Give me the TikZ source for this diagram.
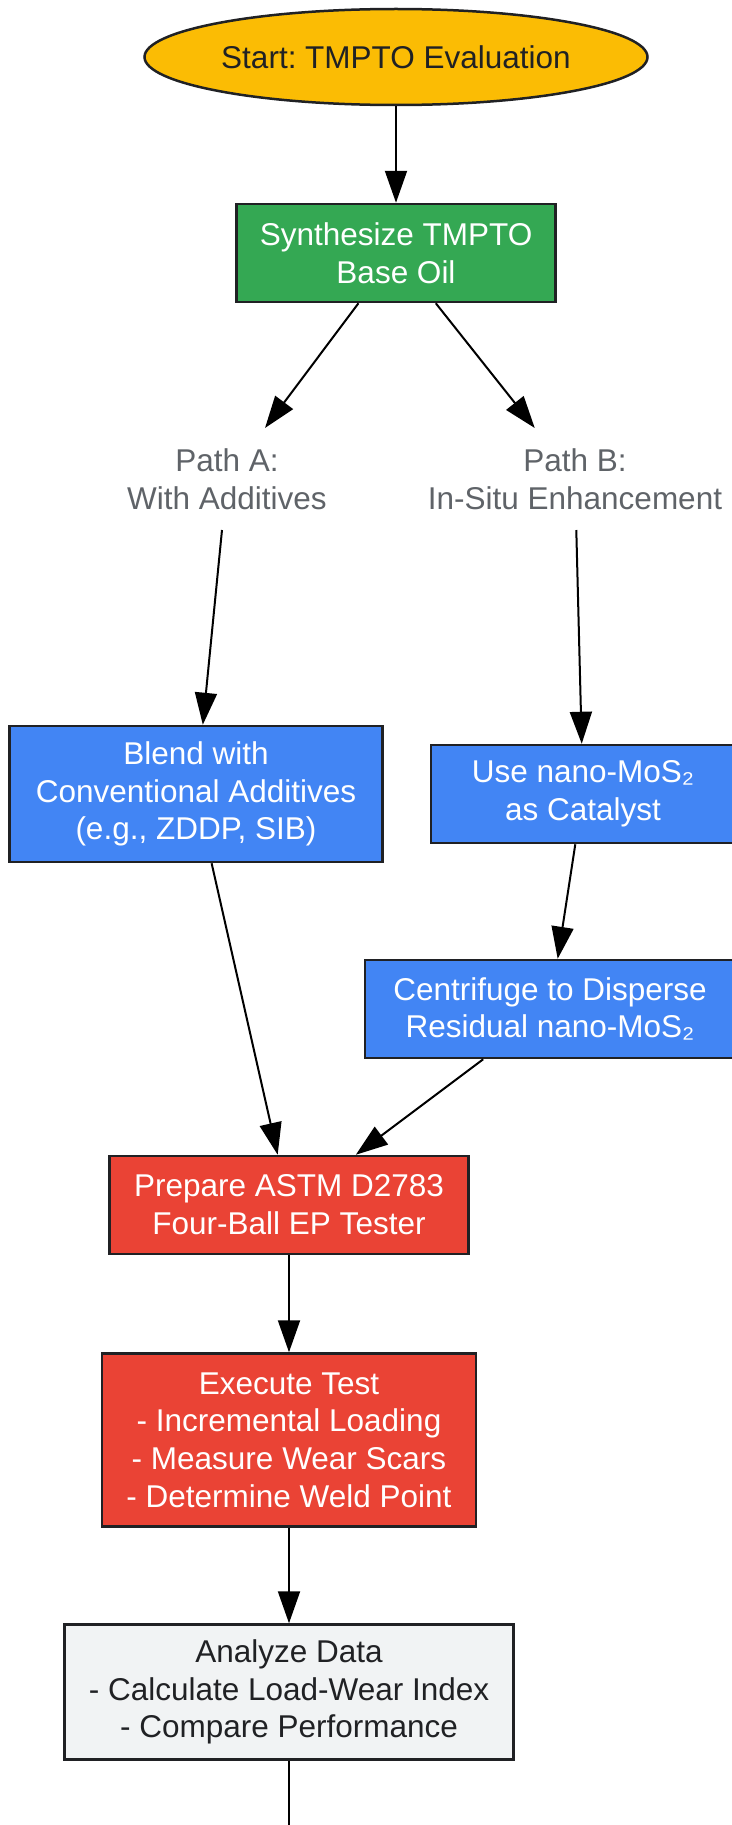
\documentclass[tikz,border=0pt]{standalone}
\usepackage{fontspec}
\setmainfont{Liberation Sans}
\frenchspacing
\usetikzlibrary{shapes.geometric,positioning,arrows.meta}

\definecolor{startyellow}{HTML}{FBBC04}
\definecolor{synthgreen}{HTML}{34A853}
\definecolor{pathblue}{HTML}{4285F4}
\definecolor{testred}{HTML}{EA4335}
\definecolor{datagray}{HTML}{F1F3F4}
\definecolor{edgedark}{HTML}{202124}
\definecolor{labelgray}{HTML}{5F6368}

\begin{document}
\begin{tikzpicture}[
	x=1pt,y=-1pt,
	% Step style
	stepbox/.style={rectangle,draw=edgedark,line width=2.5pt,align=center,inner sep=0pt,
		minimum height=98pt,font=\fontsize{31.5}{37.8}\selectfont},
	startnode/.style={stepbox,ellipse,fill=startyellow,text=edgedark,minimum width=503pt,minimum height=96pt},
	greenbox/.style={stepbox,fill=synthgreen,text=white},
	bluebox/.style={stepbox,fill=pathblue,text=white},
	redbox/.style={stepbox,fill=testred,text=white},
	graybox/.style={stepbox,fill=datagray,text=edgedark},
	% Path labels
	pathlabel/.style={rectangle,align=center,text=labelgray,minimum height=100pt,
		font=\fontsize{31.5}{37.8}\selectfont},
	% Connectors
	>={Triangle[length=32pt,width=22pt]},
	every path/.append style={line width=2pt}
	]
	\useasboundingbox (0,0) rectangle (731,1825);
	%% Draw steps
	\node (start) [startnode] at (396,57) {Start: TMPTO Evaluation};
	\node (synth) [greenbox,minimum width=319pt] at (396,253) {Synthesize TMPTO\\Base Oil};
	\node (patha) [pathlabel] at (227,479) {Path A:\\With Additives};
	\node (pathb) [pathlabel] at (575,479) {Path B:\\In-Situ Enhancement};
	\node (blend) [bluebox,minimum width=373pt,minimum height=136pt] at (196,794) {Blend with\\Conventional Additives\\(e.g., ZDDP, SIB)};
	\node (nano) [bluebox,minimum width=304pt] at (583,794) {Use nano-MoS₂\\as Catalyst};
	\node (centri) [bluebox,minimum width=370pt] at (550,1009) {Centrifuge to Disperse\\Residual nano-MoS₂};
	\node (prep) [redbox,minimum width=359pt] at (289,1205) {Prepare ASTM D2783\\Four-Ball EP Tester};
	\node (exec) [redbox,minimum width=374pt,minimum height=173pt] at (289,1440) {Execute Test\\- Incremental Loading\\- Measure Wear Scars\\- Determine Weld Point};
	\node (analyze) [graybox,minimum width=449pt,minimum height=135pt] at (289,1692) {Analyze Data\\- Calculate Load-Wear Index\\- Compare Performance};
	\coordinate (next) at (289,1900);
	%% Draw edges
	\draw [->] (start) -- (synth);
	\draw [->] (synth) -- (patha);
	\draw [->] (synth) -- (pathb);
	\draw [->] (patha) -- (blend);
	\draw [->] (pathb) -- (nano);
	\draw [->] (nano) -- (centri);
	\draw [->] (blend) -- (prep);
	\draw [->] (centri) -- (prep);
	\draw [->] (prep) -- (exec);
	\draw [->] (exec) -- (analyze);
	\draw [->] (analyze) -- (next);
\end{tikzpicture}
\end{document}
